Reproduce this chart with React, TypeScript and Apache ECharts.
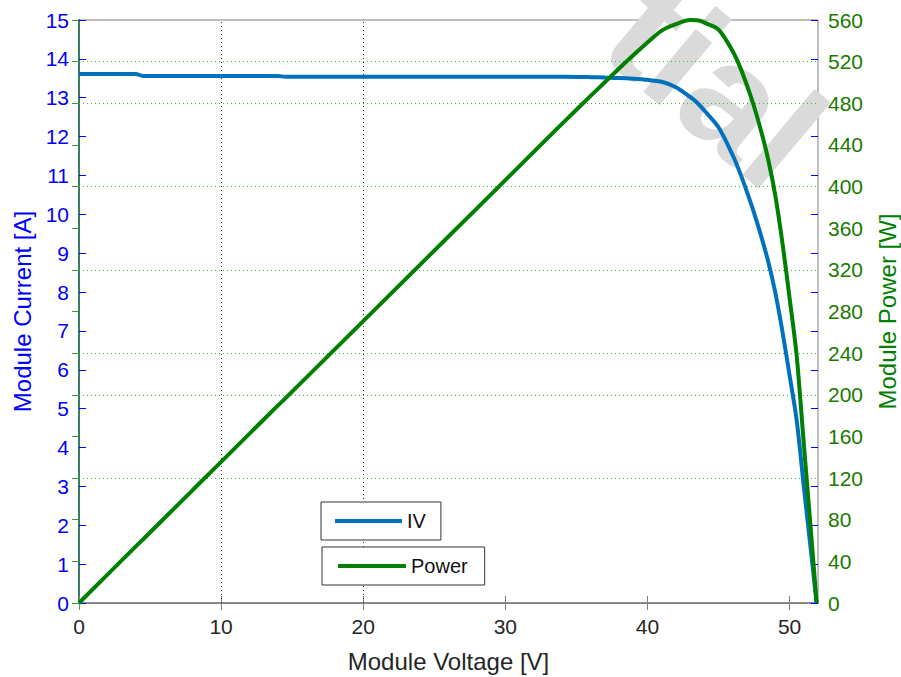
import React, { useEffect, useRef } from "react";
import * as echarts from "echarts";

const voltage = [0, 4, 4.5, 8, 12, 14, 14.5, 20, 26, 30, 34, 36, 37, 38, 39, 40, 41, 42, 43, 43.5, 44, 45, 46, 46.5, 47, 47.5, 48, 48.5, 49, 49.5, 50, 50.5, 51, 51.5, 51.9];
const current = [13.61, 13.61, 13.56, 13.56, 13.56, 13.56, 13.54, 13.54, 13.54, 13.54, 13.54, 13.53, 13.52, 13.51, 13.49, 13.46, 13.41, 13.27, 13.02, 12.87, 12.67, 12.24, 11.52, 11.08, 10.58, 10.04, 9.44, 8.78, 7.98, 6.98, 5.86, 4.7, 3.0, 1.35, 0];
const power = [0, 54.4, 61.0, 108.5, 162.7, 189.8, 196.3, 270.8, 352.0, 406.2, 460.4, 487.1, 500.2, 513.4, 526.1, 538.4, 549.8, 556.0, 559.9, 559.8, 557.5, 550.8, 529.9, 515.2, 497.3, 476.9, 453.1, 425.8, 391.0, 345.5, 293.0, 237.4, 153.0, 69.5, 0];

const xTicks = [0, 10, 20, 30, 40, 50];
const xGridLines = [10, 20];
const powerGridLines = [120, 200, 240, 320, 400, 480, 520];
const watermarkText = "tial";

const FONT = 'Arial, "Liberation Sans", sans-serif';
const BLUE = "#0000ff";
const GREEN = "#008000";

export default function App() {
  const ref = useRef<HTMLDivElement>(null);
  useEffect(() => {
    if (!ref.current) return;
    const chart = echarts.init(ref.current, undefined, { renderer: "svg" });
    const ivData = voltage.map((v, i) => [v, current[i]]);
    const pData = voltage.map((v, i) => [v, power[i]]);
    chart.setOption({
      animation: false,
      backgroundColor: "#ffffff",
      textStyle: { fontFamily: FONT },
      grid: {
        left: 79,
        right: 83,
        top: 20,
        bottom: 74,
        show: true,
        borderColor: "#7f7f7f",
        borderWidth: 1,
        containLabel: false,
        outerBoundsMode: "none",
      },
      graphic: [
        {
          type: "text",
          x: 580,
          y: 70,
          rotation: (-40 * Math.PI) / 180,
          z: 1,
          silent: true,
          style: { text: watermarkText, fontSize: 155, fontWeight: "bold", fontFamily: FONT, fill: "#dadada", textVerticalAlign: "bottom" },
        },
      ],
      legend: [
        {
          data: ["IV"],
          left: 321,
          top: 502,
          icon: "rect",
          itemWidth: 67,
          itemHeight: 4,
          padding: [9, 15, 9, 14],
          borderColor: "#333333",
          borderWidth: 1,
          backgroundColor: "#ffffff",
          textStyle: { fontSize: 20, color: "#111111", fontFamily: FONT },
        },
        {
          data: ["Power"],
          left: 322,
          top: 547,
          icon: "rect",
          itemWidth: 68,
          itemHeight: 4,
          padding: [9, 17, 9, 16],
          borderColor: "#333333",
          borderWidth: 1,
          backgroundColor: "#ffffff",
          textStyle: { fontSize: 20, color: "#111111", fontFamily: FONT },
        },
      ],
      xAxis: [
        {
          type: "value",
          min: 0,
          max: 52,
          interval: 10,
          name: "Module Voltage [V]",
          nameLocation: "middle",
          nameGap: 46,
          nameTextStyle: { fontSize: 24, color: "#262626", fontFamily: FONT },
          axisLine: { show: true, lineStyle: { color: "#7f7f7f", width: 1.5 } },
          axisTick: { show: true, inside: true, length: 7, lineStyle: { color: "#7f7f7f" }, customValues: xTicks },
          axisLabel: { color: "#262626", fontSize: 21, margin: 13, fontFamily: FONT, customValues: xTicks },
          splitLine: { show: false },
        },
        {
          type: "value",
          position: "top",
          min: 0,
          max: 52,
          interval: 10,
          axisLine: { show: true, lineStyle: { color: "#7f7f7f", width: 1 } },
          axisTick: { show: true, inside: true, length: 7, lineStyle: { color: "#7f7f7f" }, customValues: xTicks },
          axisLabel: { show: false },
          splitLine: { show: false },
        },
      ],
      yAxis: [
        {
          type: "value",
          position: "left",
          min: 0,
          max: 15,
          interval: 1,
          name: "Module Current [A]",
          nameLocation: "middle",
          nameGap: 42,
          nameTextStyle: { fontSize: 24, color: BLUE, fontFamily: FONT },
          axisLine: { show: true, lineStyle: { color: BLUE, width: 1.5 } },
          axisTick: { show: true, inside: true, length: 7, lineStyle: { color: BLUE } },
          axisLabel: { color: BLUE, fontSize: 21, margin: 10, fontFamily: FONT },
          splitLine: { show: false },
        },
        {
          type: "value",
          position: "right",
          min: 0,
          max: 560,
          interval: 40,
          name: "Module Power [W]",
          nameLocation: "middle",
          nameGap: 57,
          nameTextStyle: { fontSize: 24, color: GREEN, fontFamily: FONT },
          axisLine: { show: true, lineStyle: { color: "#3a963a", width: 1.5 } },
          axisTick: { show: true, inside: true, length: 7, lineStyle: { color: "#3a963a" } },
          axisLabel: { color: "#1a7a00", fontSize: 21, margin: 10, fontFamily: FONT },
          splitLine: { show: false },
        },
        {
          type: "value",
          position: "right",
          min: 0,
          max: 15,
          interval: 1,
          axisLine: { show: false },
          axisTick: { show: true, inside: true, length: 7, lineStyle: { color: BLUE } },
          axisLabel: { show: false },
          splitLine: { show: false },
        },
      ],
      series: [
        {
          name: "IV",
          type: "line",
          xAxisIndex: 0,
          yAxisIndex: 0,
          data: ivData,
          showSymbol: false,
          smooth: 0.3,
          color: "#0072bd",
          lineStyle: { color: "#0072bd", width: 4 },
          markLine: {
            silent: true,
            symbol: ["none", "none"],
            label: { show: false },
            lineStyle: { color: "#333333", type: [1, 3], width: 1 },
            data: xGridLines.map((x) => ({ xAxis: x })),
            z: 1,
          },
          z: 3,
        },
        {
          name: "Power",
          type: "line",
          xAxisIndex: 0,
          yAxisIndex: 1,
          data: pData,
          showSymbol: false,
          smooth: 0.3,
          color: "#008000",
          lineStyle: { color: "#008000", width: 4 },
          markLine: {
            silent: true,
            symbol: ["none", "none"],
            label: { show: false },
            lineStyle: { color: "#3cb33c", type: [1, 3], width: 1 },
            data: powerGridLines.map((p) => ({ yAxis: p })),
            z: 1,
          },
          z: 4,
        },
      ],
    });
    return () => chart.dispose();
  }, []);
  return <div ref={ref} style={{ position: "absolute", left: 0, top: 0, width: 901, height: 677 }} />;
}
